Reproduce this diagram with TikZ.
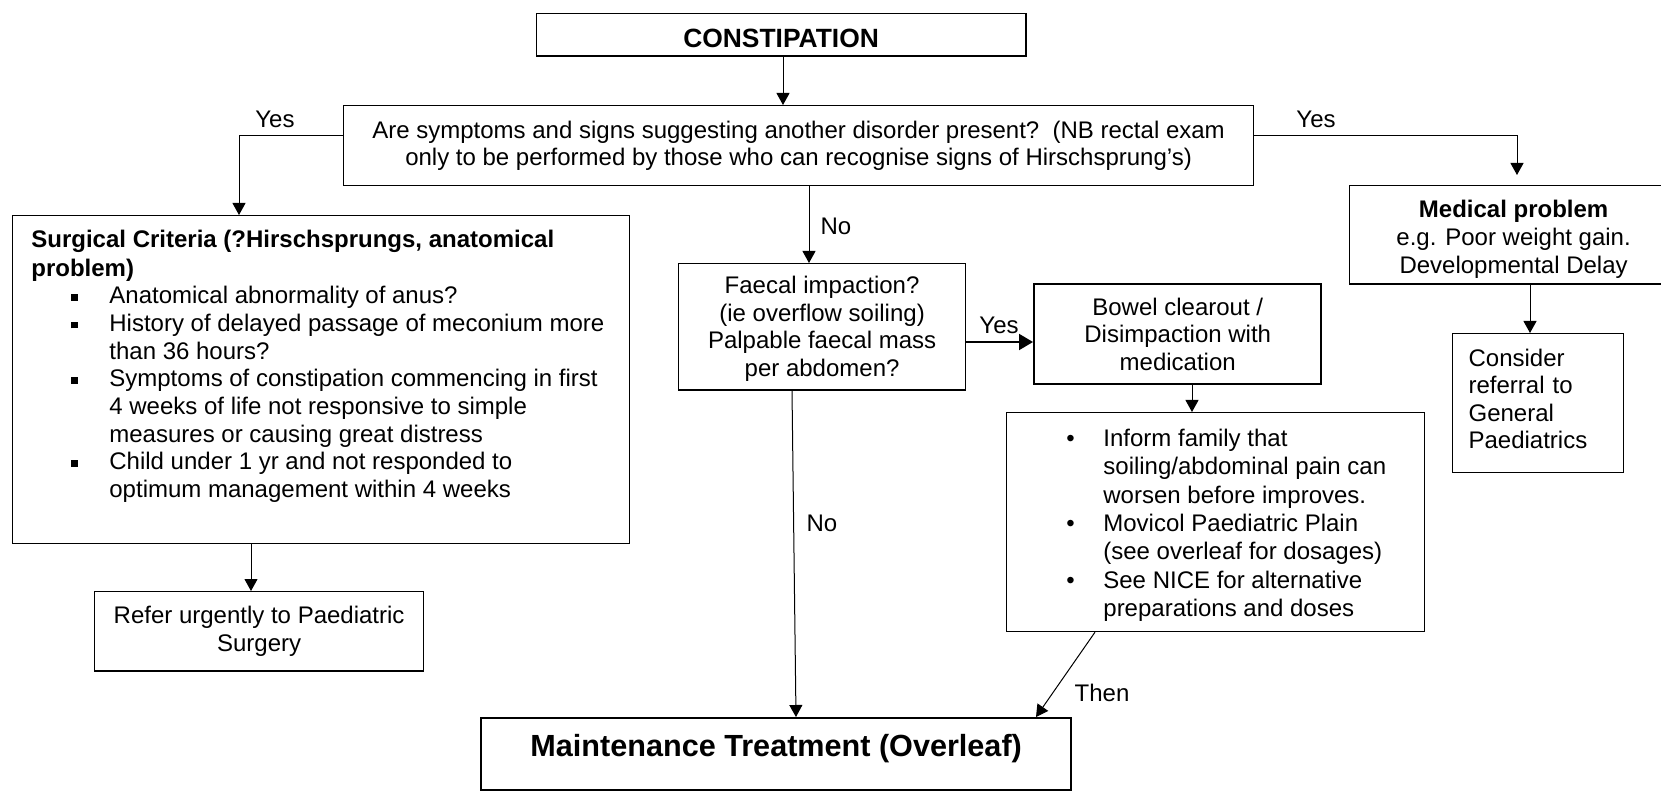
\documentclass[tikz,border=0pt]{standalone}
\usepackage{fontspec}
\setmainfont{Liberation Sans}
\usetikzlibrary{arrows.meta}
\newcommand\sqb{\makebox[39pt][l]{\hspace*{20pt}\raisebox{1.6pt}{\rule{3.3pt}{3.3pt}}}}
\newcommand\indb{\hspace*{39pt}}
\newcommand\bul{\makebox[18.5pt][l]{\textbullet}}
\newcommand\indc{\hspace*{18.5pt}}
\tikzset{
  box/.style={draw, line width=0.6pt, inner sep=0pt, anchor=north west, align=center,
    font=\fontsize{12}{13.8}\selectfont},
  lbl/.style={inner sep=0pt, font=\fontsize{12}{13.8}\selectfont},
  arr/.style={line width=0.5pt, -{Triangle[length=6pt,width=6.5pt]}},
  heavy/.style={line width=1.2pt},
}
\begin{document}
\begin{tikzpicture}[x=0.5pt,y=-0.5pt]
\useasboundingbox (0,0) rectangle (1661,791);
\clip (0,0) rectangle (1661,791);

% boxes
\node[box, minimum width=244.5pt, minimum height=21pt,
      font=\bfseries\fontsize{13.2}{14}\selectfont] (cons) at (536,13) {\rule{0pt}{12.9pt}CONSTIPATION};
\node[box, minimum width=455pt, minimum height=40pt] (quest) at (343,105)
  {Are symptoms and signs suggesting another disorder present?\ \ (NB rectal exam\\
   only to be performed by those who can recognise signs of Hirschsprung’s)};
\node[box, minimum width=308.5pt, minimum height=164pt] (surg) at (12,215) {};
\node[lbl, anchor=north west, align=left, font=\fontsize{12}{13.83}\selectfont] (surgtxt) at (31,229.5)
  {\textbf{Surgical Criteria (?Hirschsprungs, anatomical}\\[0.6pt]
   \textbf{problem)}\\
   \sqb Anatomical abnormality of anus?\\
   \sqb History of delayed passage of meconium more\\
   \indb than 36 hours?\\
   \sqb Symptoms of constipation commencing in first\\
   \indb 4 weeks of life not responsive to simple\\
   \indb measures or causing great distress\\
   \sqb Child under 1 yr and not responded to\\
   \indb optimum management within 4 weeks};
\node[box, minimum width=143.5pt, minimum height=63pt, font=\fontsize{12}{13.9}\selectfont] (faecal) at (678,263)
  {\rule{0pt}{10.8pt}Faecal impaction?\\(ie overflow soiling)\\Palpable faecal mass\\per abdomen?};
\node[box, heavy, minimum width=143.5pt, minimum height=50pt] (bowel) at (1033,283)
  {Bowel clearout /\\Disimpaction with\\medication};
\node[box, minimum width=209pt, minimum height=109.5pt] (inform) at (1006,412) {};
\node[lbl, anchor=north west, align=left, font=\fontsize{12}{14.2}\selectfont] (informtxt) at (1066,428.5)
  {\bul Inform family that\\
   \indc soiling/abdominal pain can\\
   \indc worsen before improves.\\
   \bul Movicol Paediatric Plain\\
   \indc (see overleaf for dosages)\\
   \bul See NICE for alternative\\
   \indc preparations and doses};
\node[box, heavy, minimum width=295pt, minimum height=36pt,
      font=\bfseries\fontsize{15.3}{17}\selectfont] (maint) at (480,717)
  {Maintenance Treatment (Overleaf)\rule[-8.5pt]{0pt}{0pt}};
\node[box, minimum width=164.5pt, minimum height=39.5pt] (refer) at (94,591)
  {Refer urgently to Paediatric\\Surgery};
\node[box, minimum width=164pt, minimum height=49pt, font=\fontsize{12}{14}\selectfont] (med) at (1349,185)
  {\rule{0pt}{13pt}\textbf{Medical problem}\\e.g. Poor weight gain.\\Developmental Delay};
\node[box, minimum width=85.5pt, minimum height=69.5pt, text width=69.5pt, align=left]
  (consider) at (1452,333) {Consider\\referral to\\General\\Paediatrics\rule[-4.2pt]{0pt}{0pt}};

% heavier edges
\draw[line width=1.2pt] (cons.south west) -- (cons.south east) -- (cons.north east);
\foreach \n in {faecal,med,refer}{\draw[line width=1.2pt] (\n.south west) -- (\n.south east);}

% connector positions
\coordinate (xa) at (783,0);
\coordinate (yl) at (239,136);
\coordinate (yr) at (1517,136);
\coordinate (xn) at (809,0);
\coordinate (yf) at (0,342);
\coordinate (xb) at (1192,0);
\coordinate (t1) at (1095,0);
\coordinate (t2) at (1036,0);
\coordinate (n1) at (792,0);
\coordinate (n2) at (796,0);
\coordinate (xs) at (251,0);
\coordinate (xm) at (1530,0);

% connectors
\draw[arr] (cons.south -| xa) -- (quest.north -| xa);
\draw[arr] (quest.west |- yl) -- (yl) -- (surg.north -| yl);
\draw[arr, shorten >=5pt] (quest.east |- yr) -- (yr) -- (med.north -| yr);
\draw[arr] (quest.south -| xn) -- (faecal.north -| xn);
\draw[line width=1pt, -{Triangle[length=7pt,width=8pt]}] (faecal.east |- yf) -- (bowel.west |- yf);
\draw[arr] (bowel.south -| xb) -- (inform.north -| xb);
\draw[arr] (inform.south -| t1) -- (maint.north -| t2);
\draw[arr] (faecal.south -| n1) -- (maint.north -| n2);
\draw[arr] (surg.south -| xs) -- (refer.north -| xs);
\draw[arr] (med.south -| xm) -- (consider.north -| xm);

% labels
\node[lbl] (yesl) at (275,119) {Yes};
\node[lbl] (yesr) at (1316,119) {Yes};
\node[lbl] (no1) at (836,226) {No};
\node[lbl] (yesm) at (999,325) {Yes};
\node[lbl] (no2) at (822,523) {No};
\node[lbl] (then) at (1102,693) {Then};
\end{tikzpicture}
\end{document}
